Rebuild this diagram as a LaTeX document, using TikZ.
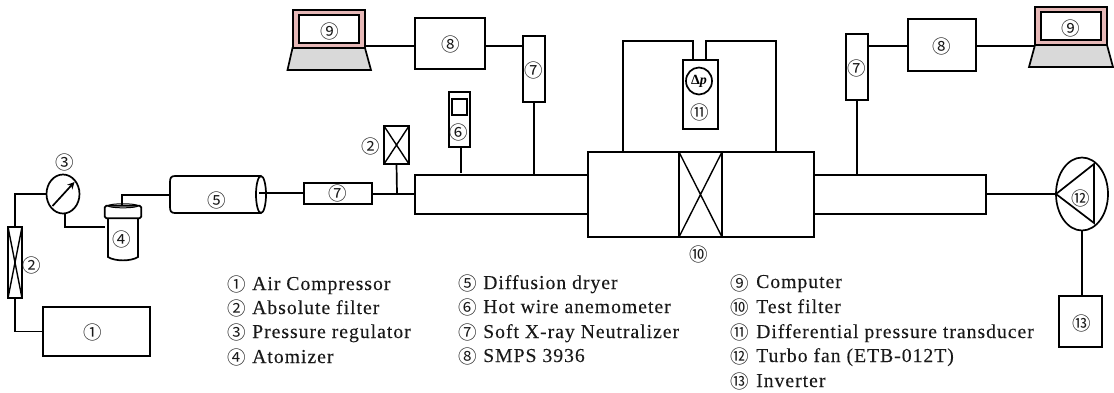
\documentclass[tikz,border=0pt]{standalone}
\usepackage{fontspec}
\setmainfont[LetterSpace=5,FakeBold=0.12]{Liberation Serif}
\newfontfamily\circfont{Noto Sans CJK KR}
\newfontfamily\plainserif{Liberation Serif}
\usetikzlibrary{shapes.geometric,arrows.meta}
\definecolor{pinkscr}{HTML}{E6B8B7}
\definecolor{graybase}{HTML}{D9D9D9}
\tikzset{
  x=1pt,y=-1pt,
  ln/.style={line width=1.7pt,line join=miter},
  thinln/.style={line width=1.4pt},
  box/.style={draw,ln,rectangle,inner sep=0pt,outer sep=0pt},
  oval/.style={draw,ln,ellipse,inner sep=0pt,outer sep=0pt},
  num/.style={inner sep=0pt,font=\circfont\fontsize{18.5}{18.5}\selectfont,text=black!90},
  leg/.style={inner sep=0pt,anchor=base west,font=\fontsize{19.7}{20}\selectfont,text=black!90},
}
\newcommand{\bx}[6][]{%
  \pgfmathsetmacro{\cxx}{(#3+#5)/2}\pgfmathsetmacro{\cyy}{(#4+#6)/2}%
  \pgfmathsetmacro{\wdd}{#5-#3}\pgfmathsetmacro{\htt}{#6-#4}%
  \node[box,minimum width=\wdd pt,minimum height=\htt pt,#1] (#2) at (\cxx,\cyy) {};}
\newcommand{\xbox}[1]{\draw[thinln] (#1.north west)--(#1.south east) (#1.north east)--(#1.south west);}
\begin{document}
\begin{tikzpicture}
\useasboundingbox (0,0) rectangle (1114,392);
% left side
\bx{comp}{43}{307}{150}{356}
\bx{fa}{8}{227}{22}{298}
\xbox{fa}
\node[oval,minimum width=33pt,minimum height=39pt] (reg) at (63,194) {};
\draw[ln,-{Stealth[length=7pt,width=7pt]}] (52.5,206) -- (74.5,182);
% atomizer
\node[inner sep=0pt,minimum width=36pt,minimum height=12pt] (cap) at (123,212) {};
\draw[ln,rounded corners=1.5pt] (cap.north west) rectangle (cap.south east);
\draw[line width=1pt] (cap.north) ellipse (15pt and 2pt);
\draw[ln,rounded corners=0pt] (108,218) -- (108,257) .. controls (115,261.5) and (131,261.5) .. (138,257) -- (138,218);
\coordinate (capin) at (122,206);
% dryer
\node[inner sep=0pt,minimum width=96pt,minimum height=37pt] (dry) at (218,194.5) {};
\draw[ln] (261,176) -- (175,176) .. controls (171,176) and (170,178) .. (170,182) -- (170,207) .. controls (170,211) and (171,213) .. (175,213) -- (261,213);
\draw[ln] (261,194.5) ellipse (5pt and 18.5pt);
\coordinate (dryout) at (259,193);
\coordinate (dryin) at (170,195);
\bx{nh}{304}{183}{372}{204}
\bx{fb}{384}{126}{409}{164}
\xbox{fb}
\bx{duL}{415}{175}{588}{214}
\bx{hw}{449}{92}{470}{147}
\bx{hwi}{452}{99}{467}{115}
\bx{nt}{523}{36}{545}{102}
\bx{s1}{415}{18}{485}{69}
% laptop 1
\draw[ln,fill=graybase] (292.5,48) -- (365,48) -- (371,70) -- (287.5,70) -- cycle;
\bx[fill=pinkscr]{la}{293}{10}{365}{48}
\bx[fill=white]{lai}{299}{15}{359}{43}
% test section
\bx{test}{588}{152}{814}{237}
\bx{tf}{679}{152}{722}{237}
\xbox{tf}
\bx{dp}{683}{60}{718}{129}
\node[oval,minimum width=26pt,minimum height=27pt] (dpc) at (699,81) {\plainserif\fontsize{14}{14}\selectfont\textbf{Δ\textit{p}}};
\bx{duR}{814}{175}{986}{214}
\bx{nr}{846}{34}{868}{100}
\bx{s2}{908}{19}{976}{71}
% laptop 2
\draw[ln,fill=graybase] (1035,45) -- (1107,45) -- (1113,67) -- (1029,67) -- cycle;
\bx[fill=pinkscr]{lb}{1035}{7}{1107}{45}
\bx[fill=white]{lbi}{1041}{12}{1101}{40}
% fan
\node[oval,minimum width=52pt,minimum height=73pt] (fan) at (1082,194) {};
\draw[ln] (fan.west) -- (1094,164) -- (1094,223) -- cycle;
\bx{inv}{1059}{296}{1102}{347}
% connectors
\draw[ln] (comp.west) -| (fa.south);
\draw[ln] (fa.north) |- (reg.west);
\coordinate (regb) at (65,213);
\coordinate (capl) at (105,227);
\draw[ln] (regb) |- (capl);
\draw[ln] (capin) |- (dryin);
\coordinate (nhin) at (304,193);
\draw[ln] (dryout) -- (nhin);
\coordinate (ductin) at (415,194);
\draw[ln] (nh.east |- ductin) -- (ductin);
\coordinate (fbj) at (397,194);
\draw[ln] (fb.south) -- (fbj);
\coordinate (hwb) at (461,147);
\coordinate (hwd) at (461,173);
\draw[ln] (hwb) -- (hwd);
\draw[ln] (nt.south) -- (nt.south |- duL.north);
\coordinate (la1) at (365,46);
\draw[ln] (la1) -- (la1 -| s1.west);
\coordinate (s1o) at (485,46);
\draw[ln] (s1o) -- (s1o -| nt.west);
\coordinate (tl) at (623,152);
\coordinate (tr) at (776,152);
\coordinate (dl) at (693,60);
\coordinate (dr) at (706,60);
\draw[ln] (tl) -- (623,41) -- (693,41) -- (dl);
\draw[ln] (tr) -- (776,41) -- (706,41) -- (dr);
\draw[ln] (nr.south) -- (nr.south |- duR.north);
\coordinate (nro) at (868,46);
\draw[ln] (nro) -- (nro -| s2.west);
\coordinate (s2o) at (976,46);
\draw[ln] (s2o) -- (s2o -| lb.west);
\coordinate (duo) at (986,194);
\draw[ln] (duo) -- (fan.west);
\draw[ln] (fan.south) -- (fan.south |- inv.north);
% numbers on the drawing
\node[num] (n1) at (93,332) {①};
\node[num] (n2a) at (32,265) {②};
\node[num] (n3) at (64.5,162) {③};
\node[num] (n4) at (122,239) {④};
\node[num] (n5) at (217,200) {⑤};
\node[num] (n6) at (459,132) {⑥};
\node[num] (n7a) at (338,193) {⑦};
\node[num] (n2b) at (371,146) {②};
\node[num] (n7b) at (534,70) {⑦};
\node[num] (n8a) at (451,44) {⑧};
\node[num] (n9a) at (330,31) {⑨};
\node[num] (n10) at (699,254) {⑩};
\node[num] (n11) at (700,112) {⑪};
\node[num] (n7c) at (857,68) {⑦};
\node[num] (n8b) at (942,46) {⑧};
\node[num] (n9b) at (1071,28) {⑨};
\node[num] (n12) at (1081,198) {⑫};
\node[num] (n13) at (1082,323) {⑬};
% legend
\node[num] (k1) at (237,284) {①}; \node[leg] (t1) at (252,290) {Air Compressor};
\node[num] (k2) at (237,308) {②}; \node[leg] (t2) at (252,314) {Absolute filter};
\node[num] (k3) at (237,332) {③}; \node[leg] (t3) at (252,338) {Pressure regulator};
\node[num] (k4) at (237,357) {④}; \node[leg] (t4) at (252,363) {Atomizer};
\node[num] (k5) at (468,283) {⑤}; \node[leg] (t5) at (483,289) {Diffusion dryer};
\node[num] (k6) at (468,307) {⑥}; \node[leg] (t6) at (483,313) {Hot wire anemometer};
\node[num] (k7) at (468,332) {⑦}; \node[leg] (t7) at (483,338) {Soft X-ray Neutralizer};
\node[num] (k8) at (468,356) {⑧}; \node[leg] (t8) at (483,362) {SMPS 3936};
\node[num] (k9) at (740,283) {⑨}; \node[leg] (t9) at (756,288) {Computer};
\node[num] (k10) at (740,307) {⑩}; \node[leg] (t10) at (756,313) {Test filter};
\node[num] (k11) at (740,332) {⑪}; \node[leg] (t11) at (756,338) {Differential pressure transducer};
\node[num] (k12) at (740,356) {⑫}; \node[leg] (t12) at (756,362) {Turbo fan (ETB-012T)};
\node[num] (k13) at (740,381) {⑬}; \node[leg] (t13) at (756,387) {Inverter};
\end{tikzpicture}
\end{document}
